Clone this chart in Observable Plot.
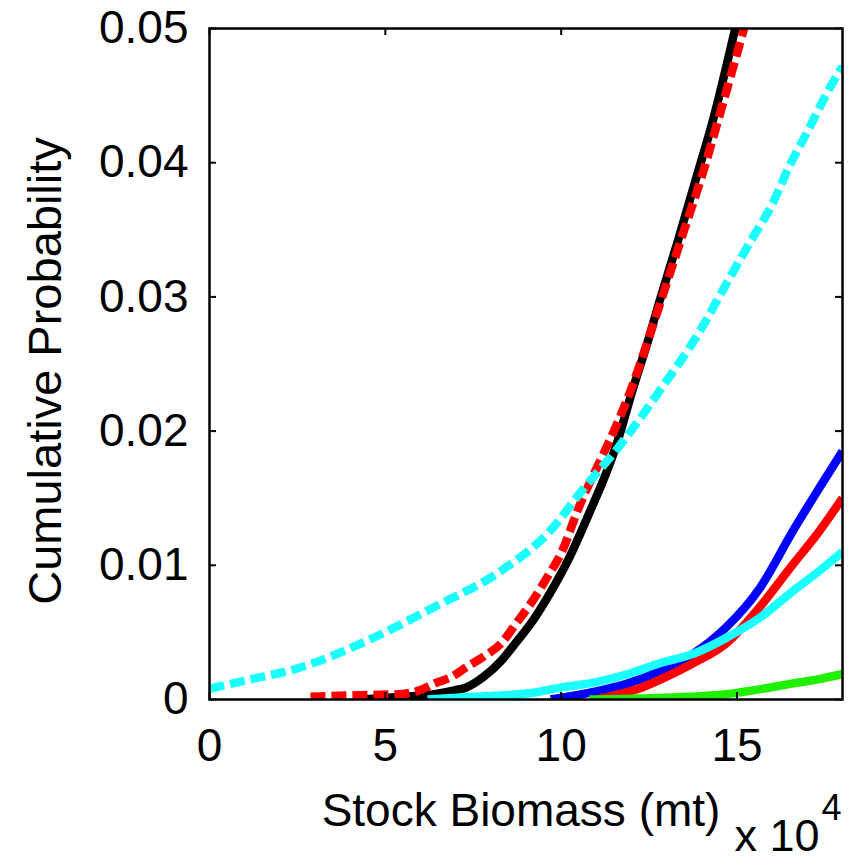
<!DOCTYPE html>
<html>
<head>
<meta charset="utf-8">
<script src="https://cdn.jsdelivr.net/npm/d3@7"></script>
<script src="https://cdn.jsdelivr.net/npm/@observablehq/plot@0.6"></script>
<style>
  html, body { margin: 0; padding: 0; background: #fff; }
  #chart svg { display: block; }
</style>
</head>
<body>
<div id="chart"></div>
<script>
// Tick values
const xTicks = [0, 5, 10, 15];
const yTicks = [0, 0.01, 0.02, 0.03, 0.04, 0.05];
const xTitle = "Stock Biomass (mt)";
const yTitle = "Cumulative Probability";
const xExponentBase = "x 10";
const xExponent = "4";

// Series (x in units of 10^4 mt, y = cumulative probability)
const blackSolidX = [4.3, 5.5, 6.4, 7.0, 7.3, 7.8, 8.3, 8.7, 9.2, 9.7, 10.2, 10.8, 11.3, 11.6, 12.0, 12.5, 12.8, 13.3, 13.8, 14.3, 14.95];
const blackSolidY = [0, 0.0002, 0.0004, 0.0007, 0.0009, 0.0017, 0.0029, 0.0042, 0.0059, 0.0080, 0.0104, 0.0139, 0.0170, 0.0192, 0.0228, 0.0270, 0.0297, 0.0340, 0.0385, 0.0430, 0.0500];

const redDashX = [2.87, 4.0, 5.4, 6.0, 6.4, 6.9, 7.3, 7.8, 8.3, 8.7, 9.2, 9.6, 10.0, 10.5, 11.2, 11.5, 12.0, 12.5, 13.0, 13.5, 14.0, 14.5, 15.2];
const redDashY = [0.0002, 0.0003, 0.0004, 0.0007, 0.0012, 0.0017, 0.0024, 0.0032, 0.0042, 0.0056, 0.0074, 0.0091, 0.0109, 0.0143, 0.0183, 0.0200, 0.0232, 0.0270, 0.0310, 0.0350, 0.0390, 0.0435, 0.0500];

const cyanDashX = [0, 1.0, 2.6, 4.5, 6.4, 8.3, 9.7, 10.6, 11.6, 12.8, 14.0, 14.7, 15.4, 16.0, 16.5, 17.0, 17.5, 18.0];
const cyanDashY = [0.0008, 0.0014, 0.0024, 0.0044, 0.0069, 0.0096, 0.0126, 0.0156, 0.0187, 0.0230, 0.0277, 0.0310, 0.0342, 0.0369, 0.0398, 0.0423, 0.0449, 0.0472];

const blueSolidX = [9.7, 10.4, 11.0, 11.9, 12.8, 13.75, 14.7, 15.65, 16.6, 17.3, 18.0];
const blueSolidY = [0, 0.0003, 0.0006, 0.0012, 0.0021, 0.0034, 0.0054, 0.0083, 0.0126, 0.0156, 0.0185];

const redSolidX = [11.0, 11.5, 12.3, 13.0, 13.75, 14.7, 15.65, 16.6, 17.3, 18.0];
const redSolidY = [0, 0.0003, 0.0009, 0.0017, 0.0027, 0.0042, 0.0069, 0.0101, 0.0124, 0.0150];

const cyanSolidX = [6.2, 7.5, 9.2, 10.0, 11.0, 11.9, 12.8, 13.75, 14.7, 15.65, 16.6, 17.3, 18.0];
const cyanSolidY = [0, 0.0002, 0.0005, 0.0009, 0.0013, 0.0019, 0.0027, 0.0034, 0.0046, 0.0061, 0.0081, 0.0095, 0.0110];

const greenSolidX = [10.8, 12.5, 14.7, 15.5, 16.6, 17.3, 18.0];
const greenSolidY = [0, 0.0001, 0.0004, 0.0007, 0.0012, 0.0015, 0.0019];

const rows = (xs, ys) => xs.map((x, i) => ({x, y: ys[i]}));

const W = 859, H = 862;
const mL = 209, mR = 17, mT = 28, mB = 163;
const plotH = H - mT - mB;
const plotW = W - mL - mR;
const tickLen = 7;
const font = "'Liberation Sans', Arial, Helvetica, sans-serif";

const lineOpts = (color, dash) => ({
  x: "x", y: "y", stroke: color, strokeWidth: 8.5, clip: true, curve: "monotone-x",
  strokeLinejoin: "round", strokeLinecap: "butt",
  ...(dash ? {strokeDasharray: dash} : {})
});

const chart = Plot.plot({
  width: W, height: H,
  marginLeft: mL, marginRight: mR, marginTop: mT, marginBottom: mB,
  x: {domain: [0, 18]},
  y: {domain: [0, 0.05]},
  style: {fontFamily: font, background: "#fff", color: "#000"},
  marks: [
    Plot.line(rows(blackSolidX, blackSolidY), lineOpts("#000000")),
    Plot.line(rows(redDashX, redDashY), lineOpts("#ff0000", "15,6")),
    Plot.line(rows(blueSolidX, blueSolidY), lineOpts("#0000ff")),
    Plot.line(rows(redSolidX, redSolidY), lineOpts("#ff0000")),
    Plot.line(rows(cyanSolidX, cyanSolidY), lineOpts("#1affff")),
    Plot.line(rows(greenSolidX, greenSolidY), lineOpts("#20f000")),
    Plot.line(rows(cyanDashX, cyanDashY), lineOpts("#1affff", "15,6")),
    Plot.frame({stroke: "#000", strokeWidth: 2.5}),
    // inward ticks
    Plot.tickX(xTicks, {x: d => d, insetTop: plotH - tickLen, stroke: "#000", strokeWidth: 2}),
    Plot.tickX(xTicks, {x: d => d, insetBottom: plotH - tickLen, stroke: "#000", strokeWidth: 2}),
    Plot.tickY(yTicks, {y: d => d, insetRight: plotW - tickLen, stroke: "#000", strokeWidth: 2}),
    Plot.tickY(yTicks, {y: d => d, insetLeft: plotW - tickLen, stroke: "#000", strokeWidth: 2}),
    Plot.axisX(xTicks, {tickSize: 0, tickPadding: 29, fontSize: 46, label: null, tickFormat: d => String(d), fill: "#000"}),
    Plot.axisY(yTicks, {tickSize: 0, tickPadding: 21, fontSize: 46, label: null, tickFormat: d => d === 0 ? "0" : d.toFixed(2), fill: "#000"}),
    Plot.text([xTitle], {text: d => d, frameAnchor: "bottom", dx: -5, dy: 126, lineAnchor: "bottom", textAnchor: "middle", fontSize: 46, fill: "#000"}),
    Plot.text([yTitle], {text: d => d, frameAnchor: "left", dx: -149, dy: 7, rotate: -90, lineAnchor: "bottom", textAnchor: "middle", fontSize: 47, fill: "#000"}),
    Plot.text([xExponentBase], {text: d => d, frameAnchor: "bottom-right", dx: -108, dy: 151, lineAnchor: "bottom", textAnchor: "start", fontSize: 45, fill: "#000"}),
    Plot.text([xExponent], {text: d => d, frameAnchor: "bottom-right", dx: -21, dy: 120, lineAnchor: "bottom", textAnchor: "start", fontSize: 36, fill: "#000"})
  ]
});
document.getElementById("chart").appendChild(chart);
</script>
</body>
</html>
